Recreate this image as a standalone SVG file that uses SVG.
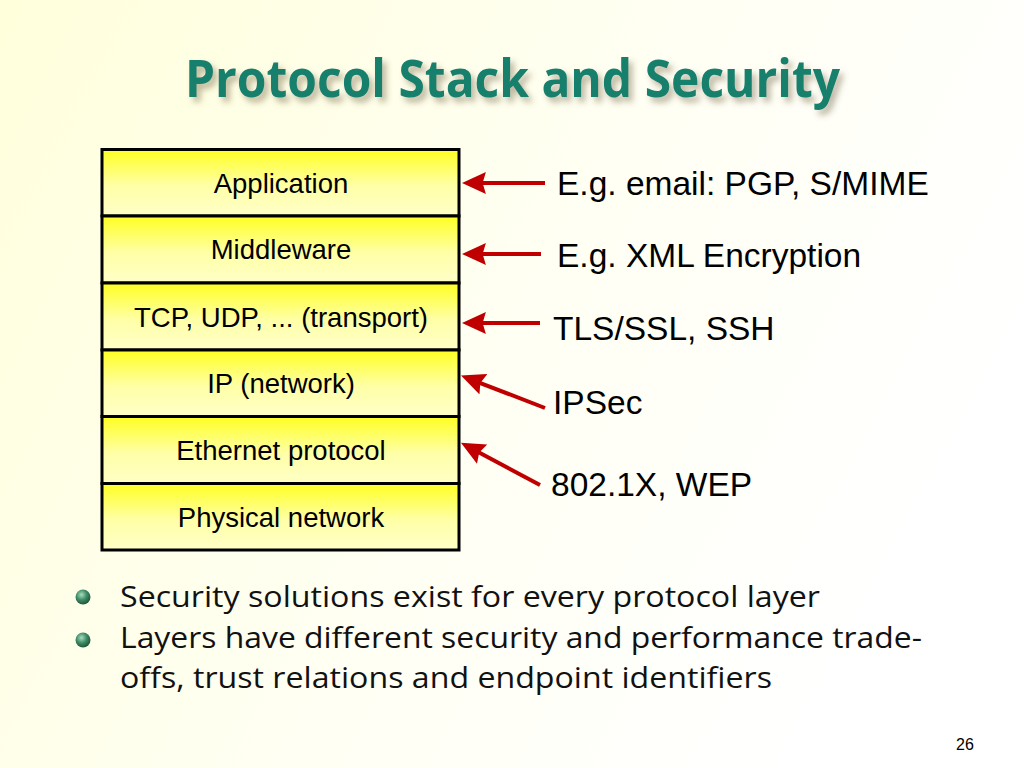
<svg xmlns="http://www.w3.org/2000/svg" width="1024" height="768" viewBox="0 0 1024 768">
  <defs>
    <linearGradient id="bg" x1="0" y1="0" x2="1" y2="0.4">
      <stop offset="0" stop-color="#ffffdc"/>
      <stop offset="0.6" stop-color="#fffff4"/>
      <stop offset="1" stop-color="#ffffff"/>
    </linearGradient>
    <linearGradient id="cell" x1="0" y1="0" x2="0" y2="1">
      <stop offset="0" stop-color="#ffff22"/>
      <stop offset="0.55" stop-color="#ffffa8"/>
      <stop offset="1" stop-color="#ffffc8"/>
    </linearGradient>
    <radialGradient id="ball" cx="0.4" cy="0.35" r="0.7">
      <stop offset="0" stop-color="#a8dcc0"/>
      <stop offset="0.5" stop-color="#3f8c66"/>
      <stop offset="1" stop-color="#1a4f36"/>
    </radialGradient>
    <filter id="shadow" x="-10%" y="-30%" width="120%" height="160%">
      <feGaussianBlur in="SourceAlpha" stdDeviation="3"/>
      <feOffset dx="4" dy="5" result="b"/>
      <feFlood flood-color="#6a5a3a" flood-opacity="0.45"/>
      <feComposite in2="b" operator="in"/>
      <feMerge><feMergeNode/><feMergeNode in="SourceGraphic"/></feMerge>
    </filter>
    <marker id="head" viewBox="0 0 11 10" refX="6" refY="5" markerWidth="6" markerHeight="5.5" orient="auto" markerUnits="strokeWidth">
      <path d="M0,5 L11,0 L9.5,5 L11,10 Z" fill="#c00000"/>
    </marker>
  </defs>
  <style>
    .cellbox { fill: url(#cell); stroke: #000; stroke-width: 3; }
    .cell { font-family: "Liberation Sans", Arial, sans-serif; font-size: 27.5px; fill: #000; text-anchor: middle; }
    .lbl { font-family: "Liberation Sans", Arial, sans-serif; font-size: 33.5px; fill: #000; }
    .arrow { stroke: #c00000; stroke-width: 4; fill: none; marker-start: url(#head); }
    .bul { font-family: "Open Sans", "Noto Sans", sans-serif; font-size: 30px; fill: #111; }
  </style>
  <rect width="1024" height="768" fill="url(#bg)"/>

  <g id="title" filter="url(#shadow)">
    <text x="185" y="97" font-family="Open Sans, Noto Sans, sans-serif" font-weight="bold" font-size="52" fill="#17806d" textLength="655" lengthAdjust="spacingAndGlyphs">Protocol Stack and Security</text>
  </g>

  <g id="stack">
    <g id="layer-application">
      <rect class="cellbox" x="102" y="149.5" width="357" height="66.5"/>
      <text class="cell" x="281" y="193">Application</text>
    </g>
    <g id="layer-middleware">
      <rect class="cellbox" x="102" y="216" width="357" height="67"/>
      <text class="cell" x="281" y="259">Middleware</text>
    </g>
    <g id="layer-transport">
      <rect class="cellbox" x="102" y="283" width="357" height="67"/>
      <text class="cell" x="281" y="327">TCP, UDP, ... (transport)</text>
    </g>
    <g id="layer-network">
      <rect class="cellbox" x="102" y="350" width="357" height="66.5"/>
      <text class="cell" x="281" y="393">IP (network)</text>
    </g>
    <g id="layer-ethernet">
      <rect class="cellbox" x="102" y="416.5" width="357" height="67"/>
      <text class="cell" x="281" y="460">Ethernet protocol</text>
    </g>
    <g id="layer-physical">
      <rect class="cellbox" x="102" y="483.5" width="357" height="66.5"/>
      <text class="cell" x="281" y="527">Physical network</text>
    </g>
  </g>

  <g id="connectors">
    <line class="arrow" x1="475" y1="183" x2="545" y2="183"/>
    <line class="arrow" x1="475" y1="254" x2="541" y2="254"/>
    <line class="arrow" x1="475" y1="323" x2="540" y2="323"/>
    <line class="arrow" x1="473.2" y1="380.3" x2="545" y2="408"/>
    <line class="arrow" x1="472.5" y1="449" x2="540" y2="485"/>
  </g>

  <g id="labels">
    <text class="lbl" x="557" y="195">E.g. email: PGP, S/MIME</text>
    <text class="lbl" x="557" y="267">E.g. XML Encryption</text>
    <text class="lbl" x="553" y="340">TLS/SSL, SSH</text>
    <text class="lbl" x="553" y="414">IPSec</text>
    <text class="lbl" x="551" y="496">802.1X, WEP</text>
  </g>

  <g id="bullets">
    <circle cx="83" cy="597" r="7.5" fill="url(#ball)"/>
    <circle cx="83" cy="640" r="7.5" fill="url(#ball)"/>
    <text class="bul" x="120" y="607" textLength="700" lengthAdjust="spacingAndGlyphs">Security solutions exist for every protocol layer</text>
    <text class="bul" x="120" y="648" textLength="802" lengthAdjust="spacingAndGlyphs">Layers have different security and performance trade-</text>
    <text class="bul" x="120" y="688" textLength="652" lengthAdjust="spacingAndGlyphs">offs, trust relations and endpoint identifiers</text>
  </g>

  <text x="965" y="750" font-family="Liberation Sans, Arial, sans-serif" font-size="16" fill="#000" text-anchor="middle">26</text>
</svg>
